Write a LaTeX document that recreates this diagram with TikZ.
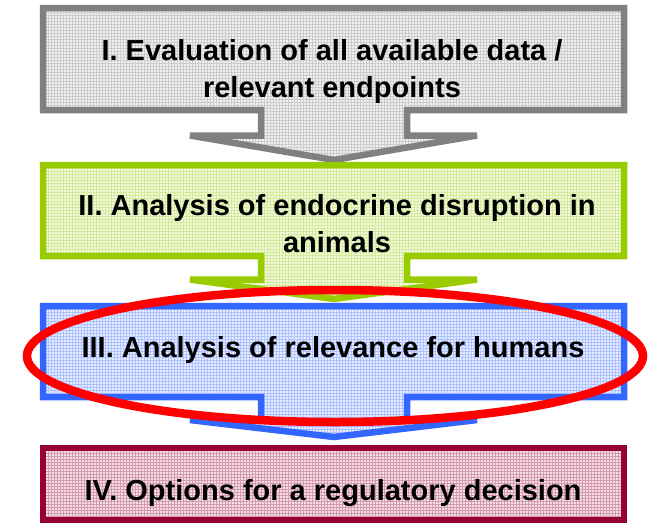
\documentclass[tikz,border=0pt]{standalone}
\usepackage{fontspec}
\setmainfont{Liberation Sans}
\usetikzlibrary{patterns}

\definecolor{evalgray}{HTML}{808080}
\definecolor{animalgreen}{HTML}{99CC00}
\definecolor{humanblue}{HTML}{3366FF}
\definecolor{decisionred}{HTML}{990033}
\definecolor{markred}{HTML}{FF0000}

\tikzset{
  stagebox/.style={line width=6.5pt, line join=miter, miter limit=10,
    draw=#1, preaction={fill=#1!12}, pattern=grid, pattern color=#1!40},
  stagetext/.style={font=\fontsize{29}{37}\selectfont\bfseries,
    align=center, inner sep=0pt, text=black},
  highlight/.style={draw=markred, line width=8.5pt}
}

% outline of a box with a downward arrow below it:
% #1 top edge, #2 bottom edge, #3 arrow shoulder, #4 arrow tip
\def\stagecallout#1#2#3#4{(43,#1) -- (624,#1) -- (624,#2) -- (407,#2) -- (407,#3)
  -- (477,#3) -- (334,#4) -- (190,#3) -- (261,#3) -- (261,#2) -- (43,#2) -- cycle}

\begin{document}
\begin{tikzpicture}[x=1pt,y=-1pt]
\useasboundingbox (0,0) rectangle (652,525);

% stage shapes
\path[stagebox=evalgray] \stagecallout{8}{110}{135.5}{160};
\path[stagebox=animalgreen] \stagecallout{165}{256}{279.5}{299};
\path[stagebox=humanblue] \stagecallout{306}{397}{420}{437};
\path[stagebox=decisionred] (43,448) rectangle (624,520);

% stage labels (base anchor sits on the last line)
\node[stagetext, anchor=base] (s1) at (332,97)
  {I. Evaluation of all available data /\\relevant endpoints};
\node[stagetext, anchor=base] (s2) at (337,252)
  {II. Analysis of endocrine disruption in\\animals};
\node[stagetext, anchor=base] (s3) at (333,357)
  {III. Analysis of relevance for humans};
\node[stagetext, anchor=base] (s4) at (333,500)
  {IV. Options for a regulatory decision};

% emphasis on stage III
\draw[highlight] (335,356) ellipse [x radius=308, y radius=66];
\end{tikzpicture}
\end{document}
